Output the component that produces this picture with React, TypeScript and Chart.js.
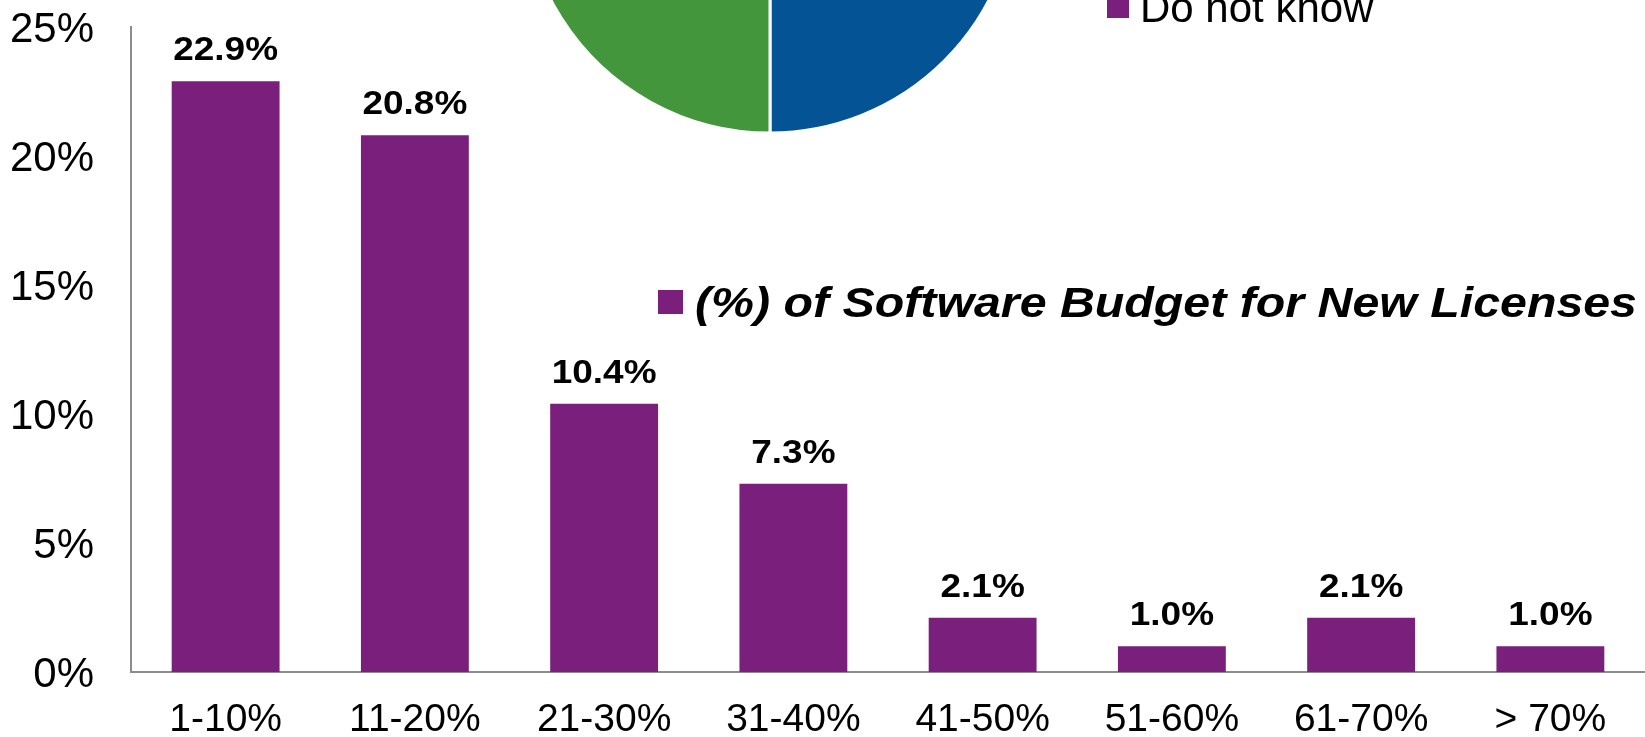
import React, { useEffect, useRef } from "react";
import { Chart, registerables } from "chart.js";

Chart.register(...registerables);

const categories = ["1-10%", "11-20%", "21-30%", "31-40%", "41-50%", "51-60%", "61-70%", "> 70%"];
const budgetShares = [22.9, 20.8, 10.4, 7.3, 2.1, 1.0, 2.1, 1.0];
const seriesName = "(%) of Software Budget for New Licenses";
const yTickValues = [0, 5, 10, 15, 20, 25];

const pieLabels = ["Yes", "No", "Do not know"];
const pieValues = [50, 32, 18];

const FONT = '"Liberation Sans", Arial, Helvetica, sans-serif';
const BAR_COLOR = "#7A1F7B";
const PIE_COLORS = ["#035395", "#44963C", "#7A1F7B"];
const AXIS_COLOR = "#8C8C8C";

const valueLabelPlugin = {
  id: "valueLabels",
  afterDatasetsDraw(chart: any) {
    const ctx = chart.ctx;
    const meta = chart.getDatasetMeta(0);
    const data = chart.data.datasets[0].data as number[];
    ctx.save();
    ctx.fillStyle = "#000";
    ctx.font = `bold 33px ${FONT}`;
    ctx.textAlign = "center";
    ctx.textBaseline = "alphabetic";
    meta.data.forEach((bar: any, i: number) => {
      ctx.save();
      ctx.translate(bar.x, bar.y - 21);
      ctx.scale(1.12, 1);
      ctx.fillText(data[i].toFixed(1) + "%", 0, 0);
      ctx.restore();
    });
    ctx.restore();
  },
};

export default function App() {
  const barRef = useRef<HTMLCanvasElement>(null);
  const pieRef = useRef<HTMLCanvasElement>(null);

  useEffect(() => {
    const barChart = new Chart(barRef.current as HTMLCanvasElement, {
      type: "bar",
      data: {
        labels: categories,
        datasets: [
          {
            label: seriesName,
            data: budgetShares,
            backgroundColor: BAR_COLOR,
            borderWidth: 0,
            barPercentage: 0.57,
            categoryPercentage: 1.0,
          },
        ],
      },
      options: {
        responsive: false,
        animation: false,
        devicePixelRatio: 1,
        layout: { padding: { top: 27, right: 0, bottom: 0, left: 0 } },
        plugins: { legend: { display: false }, tooltip: { enabled: false } },
        scales: {
          x: {
            grid: { display: false, drawTicks: false },
            border: { display: true, color: AXIS_COLOR, width: 2 },
            ticks: {
              color: "#000",
              font: { family: FONT, size: 39 },
              padding: 25,
              maxRotation: 0,
              autoSkip: false,
            },
            afterFit: (s: any) => {
              s.height = 65;
              s.paddingLeft = 0;
              s.paddingRight = 0;
            },
          },
          y: {
            min: 0,
            max: 25,
            grid: { display: false, drawTicks: false },
            border: { display: true, color: AXIS_COLOR, width: 2 },
            ticks: {
              color: "#000",
              font: { family: FONT, size: 42 },
              padding: 37,
              labelOffset: 3,
              callback: (v: any) => v + "%",
            },
            afterBuildTicks: (s: any) => {
              s.ticks = yTickValues.map((v) => ({ value: v }));
            },
            afterFit: (s: any) => {
              s.width = 131;
              s.paddingTop = 0;
              s.paddingBottom = 0;
            },
          },
        },
      },
      plugins: [valueLabelPlugin],
    } as any);

    const pieChart = new Chart(pieRef.current as HTMLCanvasElement, {
      type: "pie",
      data: {
        labels: pieLabels,
        datasets: [
          {
            data: pieValues,
            backgroundColor: PIE_COLORS,
            borderColor: "#ffffff",
            borderWidth: 3,
          },
        ],
      },
      options: {
        responsive: false,
        animation: false,
        devicePixelRatio: 1,
        radius: 247,
        layout: { padding: 0 },
        plugins: { legend: { display: false }, tooltip: { enabled: false } },
      },
    } as any);

    return () => {
      barChart.destroy();
      pieChart.destroy();
    };
  }, []);

  const n = pieLabels.length;

  return (
    <div
      style={{
        position: "fixed",
        left: 0,
        top: 0,
        width: 1645,
        height: 737,
        overflow: "hidden",
        background: "#fff",
        fontFamily: FONT,
      }}
    >
      <canvas ref={barRef} width={1645} height={737} style={{ position: "absolute", left: 0, top: 0 }} />
      <canvas ref={pieRef} width={600} height={600} style={{ position: "absolute", left: 470, top: -414 }} />

      {pieLabels.map((lab, i) => {
        const top = 22 - 35.5 - (n - 1 - i) * 56;
        return (
          <div key={lab} style={{ position: "absolute", left: 1107, top, height: 42 }}>
            <div
              style={{
                position: "absolute",
                left: 0,
                top: 35.5 - 26,
                width: 22,
                height: 22,
                background: PIE_COLORS[i],
              }}
            />
            <div
              style={{
                position: "absolute",
                left: 33,
                top: 0,
                fontSize: 42,
                lineHeight: "42px",
                whiteSpace: "nowrap",
                color: "#000",
              }}
            >
              {lab}
            </div>
          </div>
        );
      })}

      <div style={{ position: "absolute", left: 658, top: 290, width: 25, height: 24, background: BAR_COLOR }} />
      <div
        style={{
          position: "absolute",
          left: 695,
          top: 317 - 35.5,
          fontSize: 42,
          lineHeight: "42px",
          fontWeight: "bold",
          fontStyle: "italic",
          whiteSpace: "nowrap",
          color: "#000",
          transform: "scaleX(1.15)",
          transformOrigin: "left top",
        }}
      >
        {seriesName}
      </div>
    </div>
  );
}
